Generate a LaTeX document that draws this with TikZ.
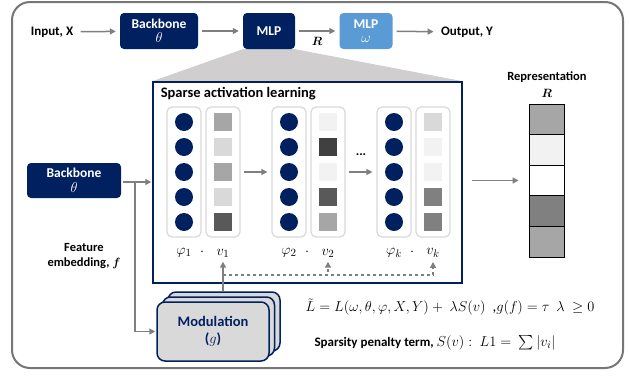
\documentclass[tikz,border=0pt]{standalone}
\usepackage{amsmath}
\usepackage{fontspec}
\setmainfont{Carlito}
\usetikzlibrary{calc, positioning, arrows.meta, backgrounds}

\definecolor{navy}{HTML}{002060}
\definecolor{skyblue}{HTML}{5B9BD5}
\definecolor{arrowgray}{HTML}{7F7F7F}
\definecolor{framegray}{HTML}{767676}
\definecolor{trapgray}{HTML}{D0CECE}
\definecolor{panelgray}{HTML}{D9D9D9}

\begin{document}
\begin{tikzpicture}[
    x=1pt, y=-1pt,
    font=\fontsize{13}{15}\selectfont\bfseries,
    block/.style={
        fill=navy,
        text=white,
        rounded corners=4pt,
        align=center,
        inner sep=1pt,
        font=\fontsize{13.5}{14.5}\selectfont\bfseries
    },
    arrow/.style={
        draw=arrowgray,
        line width=1.5pt,
        -{Triangle[length=6pt, width=6pt]},
        shorten <=4pt,
        shorten >=4pt
    },
    panel/.style={
        draw=panelgray,
        line width=1.2pt,
        rounded corners=5pt,
        fill=white,
        minimum width=34,
        minimum height=130
    },
    unit/.style={
        circle,
        fill=navy,
        inner sep=0pt,
        minimum size=18
    },
    cell/.style={
        inner sep=0pt,
        minimum size=18
    },
    modbox/.style={
        draw=navy,
        line width=1.5pt,
        fill=black!15,
        rounded corners=8pt,
        minimum width=112,
        minimum height=59,
        align=center,
        text=navy,
        font=\fontsize{14.5}{17}\selectfont\bfseries
    }
]
    \useasboundingbox (0,0) rectangle (629,375);

    % Outer frame
    \draw [framegray, line width=2pt, rounded corners=18pt] (12,2) rectangle (623,368);

    % Top row
    \node (input) at (52,32) {Input, X};
    \node [block, minimum width=78, minimum height=36] (bb) at (159,31) {Backbone\\$\theta$};
    \node [block, minimum width=52, minimum height=36] (mlp) at (269,31) {MLP};
    \node [block, fill=skyblue, minimum width=53, minimum height=36] (head) at (366,31) {MLP\\$\omega$};
    \node (output) at (467,32) {Output, Y};

    \draw [arrow] (input) -- (bb);
    \draw [arrow] (bb) -- (mlp);
    \draw [arrow] (mlp) -- (head) node [midway, below=2pt, font=\fontsize{13}{15}\selectfont] {$\boldsymbol{R}$};
    \draw [arrow] (head) -- (output);

    % Sparse activation block
    \node [draw=navy, line width=1.5pt, fill=white, minimum width=309, minimum height=201] (sparse) at (307.5,182.5) {};
    \node [anchor=west, font=\fontsize{14.5}{17}\selectfont\bfseries] at ($(sparse.north west)+(5,12)$) {Sparse activation learning};

    % Zoom wedge
    \begin{scope}[on background layer]
        \fill [trapgray] (mlp.south west) -- (mlp.south east) -- (sparse.north east) -- (sparse.north west) -- cycle;
    \end{scope}

    % Columns phi / v
    \foreach \k/\x/\shades in {1/184/{35,15,35,15,65}, 2/289/{5,75,5,65,35}, k/394/{15,5,5,50,50}} {
        \node [panel] (phi\k) at (\x,172) {};
        \node [panel] (v\k) at (\x+39,172) {};
        \foreach \j in {1,...,5} {
            \node [unit] at (\x,97+25*\j) {};
        }
        \foreach \s [count=\j] in \shades {
            \node [cell, fill=black!\s] at (\x+39,97+25*\j) {};
        }
        \node [font=\fontsize{15}{17}\selectfont] (lphi\k) at (\x,253) {$\varphi_{\k}$};
        \node [font=\fontsize{15}{17}\selectfont] at (\x+18,252) {$\cdot$};
        \node [font=\fontsize{15}{17}\selectfont] (lv\k) at (\x+39,253) {$v_{\k}$};
    }

    \draw [arrow, shorten <=3pt, shorten >=4pt] (v1) -- (phi2);
    \draw [arrow, shorten <=3pt, shorten >=4pt] (v2) -- (phik);
    \node at ($(v2.east)!0.5!(phik.west)+(0,-17)$) {...};

    % Representation R
    \node [font=\fontsize{12.5}{14}\selectfont\bfseries] at (547,77) {Representation};
    \node [font=\fontsize{13}{15}\selectfont] at (547,93) {$\boldsymbol{R}$};
    \foreach \s [count=\j] in {35,5,0,50,35} {
        \node [cell, draw=black, line width=1pt, fill=black!\s, minimum width=35, minimum height=30.6] (rep\j) at (546.5,88.7+30.6*\j) {};
    }
    \draw [arrow, shorten <=9pt, shorten >=10pt] (sparse.east |- rep3) -- (rep3.west);

    % Feature embedding branch
    \node [block, minimum width=94, minimum height=35] (bb2) at (74,180.5) {Backbone\\$\theta$};
    \node [font=\fontsize{12.5}{15}\selectfont\bfseries, align=center] at (84,256) {Feature\\embedding, $\boldsymbol{f}$};

    % Modulation stack
    \node [modbox] (mod3) at (224,321.5) {};
    \node [modbox] (mod2) at (218.5,326.5) {};
    \node [modbox] (mod) at (213,331.5) {Modulation\\($g$)};

    \coordinate (split) at (135,182);
    \draw [arrow, shorten <=2pt, shorten >=1pt] (bb2.east |- split) -- (sparse.west |- split);
    \draw [arrow, shorten <=0pt, shorten >=1pt] (split) |- (mod.west);

    % Modulation feedback
    \coordinate (fork) at (lv1.south |- 0,275);
    \draw [arrow, shorten <=0pt, shorten >=1pt] (mod3.north -| lv1) -- (lv1.south);
    \draw [arrow, dashed, shorten <=0pt, shorten >=1pt] (fork) -| (lv2.south);
    \draw [arrow, dashed, shorten <=0pt, shorten >=1pt] (fork) -| (lvk.south);

    % Loss
    \node [font=\fontsize{15}{17}\selectfont\mdseries] (loss) at (450,307) {$\tilde{L} = L(\omega,\theta,\varphi,X,Y) +\ \lambda S(v)$\ \ ,$g(f) = \tau\ \ \lambda\ \geq 0$};
    \node [anchor=west, font=\fontsize{13}{15}\selectfont\bfseries] (penalty) at (311,343) {Sparsity penalty term, \mdseries\fontsize{15}{17}\selectfont$S(v):\ L1 =\ \sum|v_i|$};

\end{tikzpicture}
\end{document}
